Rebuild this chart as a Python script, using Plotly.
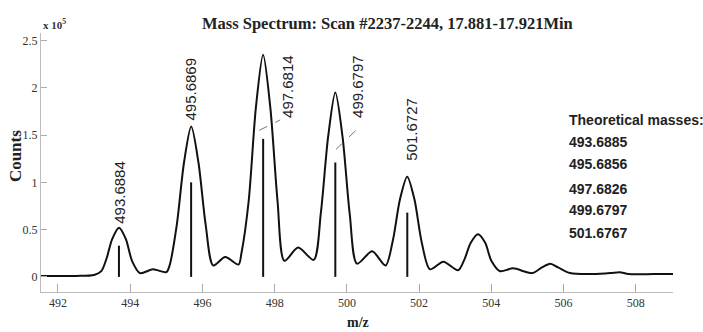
import plotly.graph_objects as go

# ---------------- data (intensity in units of 10^5 counts) ----------------
profile_mz = [491.53, 492.5, 493.0, 493.2, 493.35, 493.5, 493.69, 493.88, 494.05, 494.27, 494.63, 495.0,
              495.09, 495.29, 495.49, 495.69, 495.89, 496.09, 496.3, 496.63, 497.0,
              497.08, 497.28, 497.48, 497.68, 497.88, 498.08, 498.27, 498.65, 499.08,
              499.28, 499.48, 499.68, 499.88, 500.08, 500.28, 500.7, 501.07,
              501.27, 501.47, 501.67, 501.87, 502.07, 502.3, 502.67, 503.08,
              503.25, 503.43, 503.63, 503.83, 504.0, 504.24, 504.6, 505.13,
              505.4, 505.63, 505.85, 506.18, 506.8, 507.3, 507.55, 507.8, 508.5, 509.03]
profile_counts = [0.01, 0.01, 0.02, 0.06, 0.2, 0.40, 0.52, 0.40, 0.17, 0.04, 0.08, 0.05,
                  0.12, 0.55, 1.21, 1.59, 1.21, 0.55, 0.12, 0.21, 0.13,
                  0.25, 0.80, 1.79, 2.35, 1.79, 0.80, 0.17, 0.31, 0.18,
                  0.68, 1.48, 1.95, 1.48, 0.66, 0.14, 0.27, 0.12,
                  0.38, 0.82, 1.06, 0.82, 0.37, 0.08, 0.16, 0.07,
                  0.18, 0.36, 0.45, 0.36, 0.17, 0.06, 0.09, 0.04,
                  0.10, 0.14, 0.10, 0.04, 0.03, 0.04, 0.05, 0.03, 0.03, 0.03]

stick_mz = [493.6884, 495.6869, 497.6814, 499.6797, 501.6727]
stick_counts = [0.33, 1.00, 1.46, 1.21, 0.68]
stick_labels = ["493.6884", "495.6869", "497.6814", "499.6797", "501.6727"]

theoretical_title = "Theoretical masses:"
theoretical_masses = ["493.6885", "495.6856", "497.6826", "499.6797", "501.6767"]

x_ticks = [492, 494, 496, 498, 500, 502, 504, 506, 508]
y_ticks = [0, 0.5, 1, 1.5, 2, 2.5]
y_tick_text = ["0", "0.5", "1", "1.5", "2", "2.5"]

# ---------------- layout positions (not data) ----------------
label_dx = [0.03, -0.01, 0.69, 0.63, 0.11]
label_y = [0.89, 1.99, 2.01, 2.01, 1.56]
leader_idx = [2, 3]
leader_start = [(-0.11, 0.09), (0.02, 0.14)]
leader_end = [(0.47, 1.66), (0.60, 1.56)]
theo_x = 506.1
theo_y = [1.66, 1.43, 1.19, 0.93, 0.71, 0.46]

SERIF = "Liberation Serif, Times New Roman, serif"
SANS = "Liberation Sans, Arial, sans-serif"

fig = go.Figure()
fig.add_trace(go.Scatter(x=profile_mz, y=profile_counts, mode="lines",
                         line=dict(color="#111111", width=2, shape="spline", smoothing=0.8),
                         hoverinfo="skip", showlegend=False))
sx, sy = [], []
for m, c in zip(stick_mz, stick_counts):
    sx += [m, m, None]
    sy += [0, c, None]
fig.add_trace(go.Scatter(x=sx, y=sy, mode="lines", line=dict(color="#111111", width=2),
                         hoverinfo="skip", showlegend=False))

ann = []
for m, lab, dx, ly in zip(stick_mz, stick_labels, label_dx, label_y):
    ann.append(dict(x=m + dx, y=ly, text=lab, textangle=-90, showarrow=False,
                    xanchor="center", yanchor="middle",
                    font=dict(family=SANS, size=15, color="#222")))
shapes = []
for i, (s, e) in zip(leader_idx, zip(leader_start, leader_end)):
    shapes.append(dict(type="line", xref="x", yref="y",
                       x0=stick_mz[i] + s[0], y0=stick_counts[i] + s[1],
                       x1=stick_mz[i] + e[0], y1=e[1],
                       line=dict(color="#777", width=1, dash="dash")))

texts = [theoretical_title] + theoretical_masses
for t, ty in zip(texts, theo_y):
    ann.append(dict(x=theo_x, y=ty, text="<b>%s</b>" % t, showarrow=False,
                    xanchor="left", yanchor="middle",
                    font=dict(family=SANS, size=14, color="#222")))

ann.append(dict(xref="paper", yref="paper", x=0.0, y=1.035, text="<b>x 10<sup>5</sup></b>",
                showarrow=False, xanchor="left", yanchor="middle",
                font=dict(family=SERIF, size=11, color="#333")))
ann.append(dict(xref="paper", yref="paper", x=0.5016, y=-0.118, text="<b>m/z</b>",
                showarrow=False, xanchor="center", yanchor="middle",
                font=dict(family=SERIF, size=14, color="#222")))
ann.append(dict(xref="paper", yref="paper", x=-0.041, y=0.525, text="<b>Counts</b>",
                textangle=-90, showarrow=False, xanchor="center", yanchor="middle",
                font=dict(family=SERIF, size=17, color="#222")))

fig.update_layout(
    width=703, height=332,
    margin=dict(l=41, r=30, t=33, b=40),
    paper_bgcolor="white", plot_bgcolor="white",
    title=dict(text="<b>Mass Spectrum: Scan #2237-2244, 17.881-17.921Min</b>",
               x=0.551, xanchor="center", y=0.931, yanchor="middle",
               font=dict(family=SERIF, size=16.5, color="#222")),
    xaxis=dict(range=[491.53, 509.03], tickvals=x_ticks, ticks="inside", ticklen=8,
               tickcolor="#aaa", showline=True, linecolor="#bbb", linewidth=1,
               showgrid=False, zeroline=False,
               tickfont=dict(family=SERIF, size=12, color="#333")),
    yaxis=dict(range=[-0.16, 2.58], tickvals=y_ticks, ticktext=y_tick_text, ticks="inside",
               ticklen=6, tickcolor="#aaa", showline=True, linecolor="#bbb", linewidth=1,
               showgrid=False, zeroline=False,
               tickfont=dict(family=SERIF, size=12, color="#333")),
    annotations=ann, shapes=shapes,
)
fig.write_html("out.html")
